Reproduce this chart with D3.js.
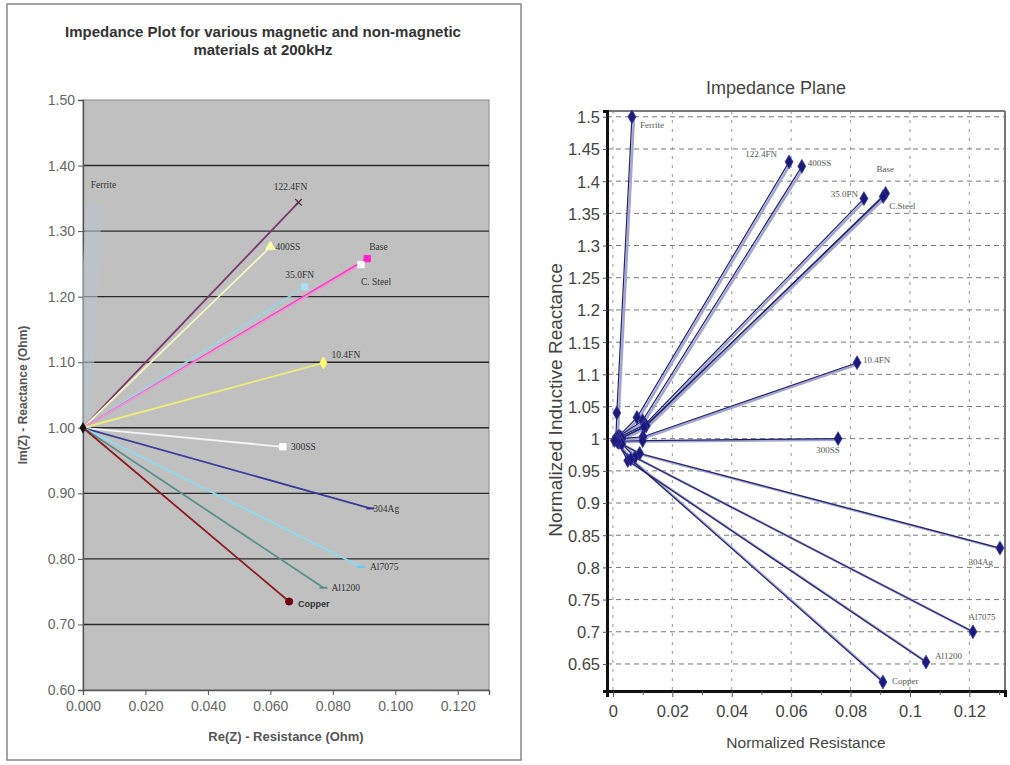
<!DOCTYPE html>
<meta charset="utf-8">
<script src="https://d3js.org/d3.v7.min.js"></script>
<style>body{margin:0;background:#fff}</style>
<div id="my_dataviz"></div>

<script>
// ---- left chart: impedance at 200kHz (Ohm) ----
var leftNames = ["Ferrite","122.4FN","400SS","35.0FN","Base","C. Steel","10.4FN","300SS","304Ag","Al7075","Al1200","Copper"];
var leftRe = [0.0035, 0.069, 0.060, 0.071, 0.091, 0.089, 0.077, 0.064, 0.092, 0.089, 0.077, 0.066];
var leftIm = [1.34, 1.344, 1.276, 1.215, 1.258, 1.249, 1.099, 0.971, 0.877, 0.788, 0.756, 0.735];
var leftXTicks = [0, 0.02, 0.04, 0.06, 0.08, 0.10, 0.12];
var leftYTicks = [0.6, 0.7, 0.8, 0.9, 1.0, 1.1, 1.2, 1.3, 1.4, 1.5];

// ---- right chart: normalized impedance plane ----
var rightNames = ["Ferrite","122.4FN","400SS","35.0FN","Base","C.Steel","10.4FN","300SS","304Ag","Al7075","Al1200","Copper"];
var rightStartRe = [0.0010, 0.0020, 0.0015, 0.0025, 0.0030, 0.0020, 0.0030, 0.0025, 0.0020, 0.0030, 0.0015, 0.0005];
var rightStartIm = [1.000, 1.004, 1.002, 1.003, 1.001, 0.999, 1.000, 0.996, 0.994, 0.992, 0.995, 0.997];
var rightMidRe = [0.0013, 0.0081, 0.0100, 0.0108, 0.0112, 0.0105, 0.0101, 0.0100, 0.0090, 0.0074, 0.0050, 0.0060];
var rightMidIm = [1.040, 1.033, 1.028, 1.022, 1.020, 1.018, 1.003, 0.997, 0.977, 0.971, 0.966, 0.968];
var rightEndRe = [0.0064, 0.0593, 0.0636, 0.0845, 0.0918, 0.0910, 0.0822, 0.0758, 0.1303, 0.1212, 0.1054, 0.0909];
var rightEndIm = [1.500, 1.430, 1.423, 1.373, 1.381, 1.376, 1.118, 1.000, 0.830, 0.700, 0.653, 0.622];
var rightXTicks = [0, 0.02, 0.04, 0.06, 0.08, 0.1, 0.12];
var rightYTicks = [0.65, 0.7, 0.75, 0.8, 0.85, 0.9, 0.95, 1, 1.05, 1.1, 1.15, 1.2, 1.25, 1.3, 1.35, 1.4, 1.45, 1.5];

// styles for left series
var leftColors = ["#bac4cd","#7a3b6c","#f4f4c4","#9fd2e4","#ff3fc8","#e79ad2","#ecec78","#f4f4f4","#3c3c98","#8fdcec","#5b8f8c","#8a1c24"];
var leftShapes = ["none","x","triangle","square","square","square","diamond","square","dash","dash","dash","circle"];
var leftMarkFill = ["none","none","#ffffb0","#a8dcee","#ff22cc","#ffffff","#ffff70","#ffffff","#333399","#66ccee","#5b8f8c","#6a0010"];
var leftLabelDx = [0, -8, 5, -5, 2, 0, 8, 8, 3, 9, 8, 9];
var leftLabelDy = [0, -12, 3, -9, -9, 20, -5, 3, 4, 3, 3, 5];
var leftAnchor = ["start","middle","start","middle","start","start","start","start","start","start","start","start"];

var rightLabelDx = [8, -12, 6, -6, -9, 6, 6, -10, -7, 9, 9, 9];
var rightLabelDy = [11, -5, 0, -2, -21, 12, 0, 14, 17, -12, -3, 2];
var rightAnchor = ["start","end","start","end","start","start","start","middle","end","middle","start","start"];

var svg = d3.select("#my_dataviz")
  .append("svg")
    .attr("width", 1010)
    .attr("height", 765);

// =================== LEFT CHART ===================
var L = svg.append("g");
var x1 = d3.scaleLinear().domain([0, 0.13]).range([83, 489]);
var y1 = d3.scaleLinear().domain([0.6, 1.5]).range([690, 100]);

// outer frame
L.append("rect").attr("x", 7).attr("y", 4).attr("width", 514).attr("height", 756)
  .attr("fill", "#fff").attr("stroke", "#888").attr("stroke-width", 1.5);

// title
L.append("text").attr("x", 263).attr("y", 37).attr("text-anchor", "middle")
  .style("font-family", "Liberation Sans, Arial").style("font-weight", "bold").style("font-size", "15px").style("fill", "#333")
  .text("Impedance Plot for various magnetic and non-magnetic");
L.append("text").attr("x", 263).attr("y", 55).attr("text-anchor", "middle")
  .style("font-family", "Liberation Sans, Arial").style("font-weight", "bold").style("font-size", "15px").style("fill", "#333")
  .text("materials at 200kHz");

// plot area
L.append("rect").attr("x", x1(0)).attr("y", y1(1.5)).attr("width", x1(0.13) - x1(0)).attr("height", y1(0.6) - y1(1.5))
  .attr("fill", "#c0c0c0").attr("stroke", "#8a8a8a").attr("stroke-width", 1);

L.append("clipPath").attr("id", "clipL").append("rect")
  .attr("x", x1(0)).attr("y", y1(1.5)).attr("width", x1(0.13) - x1(0)).attr("height", y1(0.6) - y1(1.5));

// gridlines
L.selectAll(".gridL").data(leftYTicks.filter(function(d){ return d > 0.61 && d < 1.49; }))
  .enter().append("line")
    .attr("x1", x1(0)).attr("x2", x1(0.13))
    .attr("y1", function(d){ return y1(d); }).attr("y2", function(d){ return y1(d); })
    .attr("stroke", "#2a2a2a").attr("stroke-width", 1.4);

// axes
var yAxisL = L.append("g").attr("transform", "translate(" + x1(0) + ",0)")
  .call(d3.axisLeft(y1).tickValues(leftYTicks).tickSize(5).tickFormat(d3.format(".2f")));
var xAxisL = L.append("g").attr("transform", "translate(0," + y1(0.6) + ")")
  .call(d3.axisBottom(x1).tickValues(leftXTicks).tickSize(5).tickFormat(d3.format(".3f")));
[yAxisL, xAxisL].forEach(function(a){
  a.select(".domain").attr("stroke", "#555").attr("stroke-width", 1.3);
  a.selectAll(".tick line").attr("stroke", "#555");
  a.selectAll("text").style("font-family", "Liberation Sans, Arial").style("font-size", "14px").style("fill", "#666");
});
yAxisL.selectAll("text").attr("x", -8);
xAxisL.selectAll("text").attr("y", 11);

// axis titles
L.append("text").attr("x", 286).attr("y", 741).attr("text-anchor", "middle")
  .style("font-family", "Liberation Sans, Arial").style("font-weight", "bold").style("font-size", "13px").style("fill", "#555")
  .text("Re(Z) - Resistance (Ohm)");
L.append("text").attr("transform", "translate(27,395) rotate(-90)").attr("text-anchor", "middle")
  .style("font-family", "Liberation Sans, Arial").style("font-weight", "bold").style("font-size", "12px").style("fill", "#555")
  .text("Im(Z) - Reactance (Ohm)");

// series lines from origin (0, 1)
var linesL = L.append("g").attr("clip-path", "url(#clipL)");
linesL.selectAll("line").data(leftNames).enter().append("line")
  .attr("x1", x1(0)).attr("y1", y1(1))
  .attr("x2", function(d, i){ return x1(leftRe[i]); })
  .attr("y2", function(d, i){ return y1(leftIm[i]); })
  .attr("stroke", function(d, i){ return leftColors[i]; })
  .attr("stroke-width", function(d, i){ return i === 0 ? 16 : 1.8; })
  .attr("opacity", function(d, i){ return i === 0 ? 0.6 : 1; });

// markers
var markL = L.append("g");
leftNames.forEach(function(name, i){
  var cx = x1(leftRe[i]), cy = y1(leftIm[i]);
  var s = leftShapes[i];
  if (s === "none") return;
  if (s === "dash") {
    markL.append("line").attr("x1", cx - 4).attr("x2", cx + 4).attr("y1", cy).attr("y2", cy)
      .attr("stroke", leftMarkFill[i]).attr("stroke-width", 2);
    return;
  }
  var sym = {x: d3.symbolX, triangle: d3.symbolTriangle, square: d3.symbolSquare, diamond: d3.symbolDiamond, circle: d3.symbolCircle}[s];
  var p = markL.append("path").attr("transform", "translate(" + cx + "," + cy + ")")
    .attr("d", d3.symbol().type(sym).size(s === "x" ? 30 : 40)());
  if (s === "x") p.attr("fill", "none").attr("stroke", "#4a2a40").attr("stroke-width", 1.2);
  else p.attr("fill", leftMarkFill[i]).attr("stroke", leftMarkFill[i]);
});
// origin marker
markL.append("path").attr("transform", "translate(" + x1(0) + "," + y1(1) + ")")
  .attr("d", d3.symbol().type(d3.symbolDiamond).size(40)()).attr("fill", "#111");

// labels
L.append("g").selectAll("text").data(leftNames).enter().append("text")
  .attr("x", function(d, i){ return i === 0 ? x1(0.0025) : x1(leftRe[i]) + leftLabelDx[i]; })
  .attr("y", function(d, i){ return i === 0 ? y1(1.37) + 3 : y1(leftIm[i]) + leftLabelDy[i]; })
  .attr("text-anchor", function(d, i){ return leftAnchor[i]; })
  .style("font-family", function(d, i){ return i === 11 ? "Liberation Sans, Arial" : "Liberation Serif, Times New Roman"; })
  .style("font-size", function(d, i){ return i === 11 ? "9px" : "9.5px"; })
  .style("font-weight", function(d, i){ return i === 11 ? "bold" : "normal"; })
  .style("fill", "#333")
  .text(function(d){ return d; });

// =================== RIGHT CHART ===================
var R = svg.append("g");
var x2 = d3.scaleLinear().domain([-0.002, 0.132]).range([607, 1005]);
var y2 = d3.scaleLinear().domain([0.608, 1.509]).range([691, 111]);

R.append("text").attr("x", 776).attr("y", 94).attr("text-anchor", "middle")
  .style("font-family", "Liberation Sans Narrow, Liberation Sans, Arial").style("font-size", "18px").style("fill", "#444")
  .text("Impedance Plane");

// dashed grid
R.selectAll(".hgrid").data(rightYTicks).enter().append("line")
  .attr("x1", x2(-0.002)).attr("x2", x2(0.132))
  .attr("y1", function(d){ return y2(d); }).attr("y2", function(d){ return y2(d); })
  .attr("stroke", "#777").attr("stroke-width", 1).attr("stroke-dasharray", "5,4");
R.selectAll(".vgrid").data(rightXTicks).enter().append("line")
  .attr("x1", function(d){ return x2(d); }).attr("x2", function(d){ return x2(d); })
  .attr("y1", y2(1.509)).attr("y2", y2(0.608))
  .attr("stroke", "#999").attr("stroke-width", 1).attr("stroke-dasharray", "3,6");

// frame
R.append("line").attr("x1", x2(-0.002)).attr("x2", x2(0.132)).attr("y1", y2(1.509)).attr("y2", y2(1.509))
  .attr("stroke", "#777").attr("stroke-width", 2);
R.append("line").attr("x1", x2(0.132)).attr("x2", x2(0.132)).attr("y1", y2(1.509)).attr("y2", y2(0.608))
  .attr("stroke", "#777").attr("stroke-width", 2);

var yAxisR = R.append("g").attr("transform", "translate(" + x2(-0.002) + ",0)")
  .call(d3.axisLeft(y2).tickValues(rightYTicks).tickSize(4).tickFormat(function(d){ return d3.format("")(+d.toFixed(2)); }));
var xAxisR = R.append("g").attr("transform", "translate(0," + y2(0.608) + ")")
  .call(d3.axisBottom(x2).tickValues(rightXTicks).tickSize(6).tickFormat(function(d){ return d3.format("")(+d.toFixed(2)); }));
var xMinorR = R.append("g").attr("transform", "translate(0," + y2(0.608) + ")")
  .call(d3.axisBottom(x2).tickValues([0.01, 0.03, 0.05, 0.07, 0.09, 0.11, 0.13]).tickSize(4).tickFormat(""));
xMinorR.select(".domain").remove();
xMinorR.selectAll("line").attr("stroke", "#555");
[yAxisR, xAxisR].forEach(function(a){
  a.select(".domain").attr("stroke", "#111").attr("stroke-width", 3);
  a.selectAll(".tick line").attr("stroke", "#555");
  a.selectAll("text").style("font-family", "Liberation Sans Narrow, Liberation Sans, Arial").style("font-size", "16.5px").style("fill", "#444");
});
xAxisR.selectAll("text").attr("y", 14);
yAxisR.selectAll("text").attr("x", -7).attr("dy", "0.36em");

R.append("text").attr("x", 806).attr("y", 748).attr("text-anchor", "middle")
  .style("font-family", "Liberation Sans Narrow, Liberation Sans, Arial").style("font-size", "15.5px").style("fill", "#444")
  .text("Normalized Resistance");
R.append("text").attr("transform", "translate(562,400) rotate(-90)").attr("text-anchor", "middle")
  .style("font-family", "Liberation Sans Narrow, Liberation Sans, Arial").style("font-size", "19px").style("fill", "#444")
  .text("Normalized Inductive Reactance");

// series polylines
var line2 = d3.line().x(function(p){ return x2(p[0]); }).y(function(p){ return y2(p[1]); });
var seriesR = rightNames.map(function(n, i){
  return [[rightStartRe[i], rightStartIm[i]], [rightMidRe[i], rightMidIm[i]], [rightEndRe[i], rightEndIm[i]]];
});
R.append("g").attr("transform", "translate(2,1)").selectAll("path").data(seriesR).enter().append("path")
  .attr("d", line2).attr("fill", "none").attr("stroke", "#a3a6cf").attr("stroke-width", 2.5);
R.append("g").selectAll("path").data(seriesR).enter().append("path")
  .attr("d", line2).attr("fill", "none").attr("stroke", "#22226a").attr("stroke-width", 1.2);

// diamond markers
var ptsR = [];
seriesR.forEach(function(s){ s.forEach(function(p){ ptsR.push(p); }); });
R.append("g").selectAll("path").data(ptsR).enter().append("path")
  .attr("transform", function(p){ return "translate(" + x2(p[0]) + "," + y2(p[1]) + ")"; })
  .attr("d", d3.symbol().type(d3.symbolDiamond).size(55)())
  .attr("fill", "#1a1a7a").attr("stroke", "#3a3aa0").attr("stroke-width", 0.8);

// labels
R.append("g").selectAll("text").data(rightNames).enter().append("text")
  .attr("x", function(d, i){ return x2(rightEndRe[i]) + rightLabelDx[i]; })
  .attr("y", function(d, i){ return y2(rightEndIm[i]) + rightLabelDy[i]; })
  .attr("text-anchor", function(d, i){ return rightAnchor[i]; })
  .style("font-family", "Liberation Serif, Times New Roman").style("font-size", "9px").style("fill", "#555")
  .text(function(d){ return d; });
</script>
